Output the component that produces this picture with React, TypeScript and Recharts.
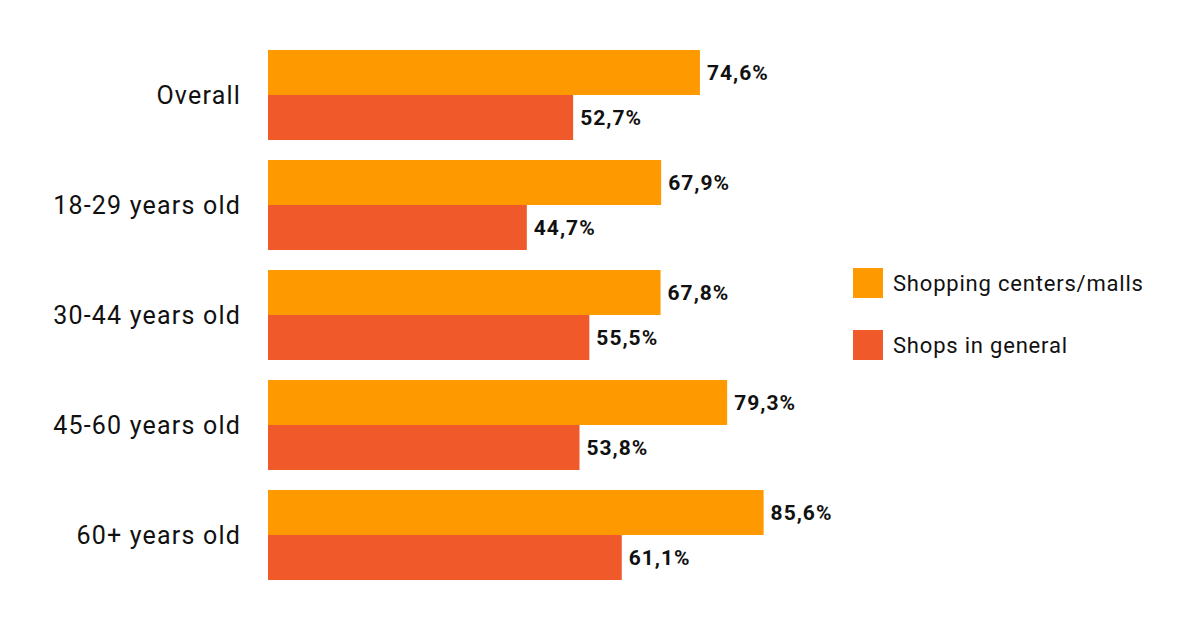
import { BarChart, Bar, XAxis, YAxis, LabelList } from 'recharts'

const categories = ['Overall', '18-29 years old', '30-44 years old', '45-60 years old', '60+ years old']
const mallsValues = [74.6, 67.9, 67.8, 79.3, 85.6]
const shopsValues = [52.7, 44.7, 55.5, 53.8, 61.1]
const seriesNames = ['Shopping centers/malls', 'Shops in general']
const seriesColors = ['#FF9900', '#F05A2B']

const data = categories.map((name, i) => ({
  name,
  malls: mallsValues[i],
  shops: shopsValues[i],
}))

const font = 'Roboto, "DejaVu Sans", sans-serif'

const fmt = (v: unknown) => `${Number(v).toFixed(1).replace('.', ',')}%`

const labelStyle = { fill: '#111', fontSize: 21, fontWeight: 700, fontFamily: font, letterSpacing: 1 }

export default function App() {
  return (
    <div style={{ position: 'absolute', left: 0, top: 0, width: 1200, height: 628, background: '#fff', fontFamily: font }}>
      <BarChart
        width={1200}
        height={628}
        data={data}
        layout="vertical"
        margin={{ top: 40, right: 353, bottom: 38, left: 0 }}
        barGap={0}
      >
        <XAxis type="number" domain={[0, 100]} hide />
        <YAxis
          type="category"
          dataKey="name"
          width={268}
          axisLine={false}
          tickLine={false}
          tickSize={0}
          tickMargin={27}
          tick={{ fill: '#111', fontSize: 25, fontFamily: font, letterSpacing: 1.2 }}
        />
        <Bar dataKey="malls" fill={seriesColors[0]} barSize={45} isAnimationActive={false}>
          <LabelList dataKey="malls" position="right" offset={7} formatter={fmt} style={labelStyle} />
        </Bar>
        <Bar dataKey="shops" fill={seriesColors[1]} barSize={45} isAnimationActive={false}>
          <LabelList dataKey="shops" position="right" offset={7} formatter={fmt} style={labelStyle} />
        </Bar>
      </BarChart>
      {seriesNames.map((s, i) => (
        <div key={s} style={{ position: 'absolute', left: 853, top: 268 + i * 62, height: 30, display: 'flex', alignItems: 'center' }}>
          <div style={{ width: 30, height: 30, background: seriesColors[i] }} />
          <span style={{ marginLeft: 10, fontSize: 22, letterSpacing: 0.8, color: '#111' }}>{s}</span>
        </div>
      ))}
    </div>
  )
}
